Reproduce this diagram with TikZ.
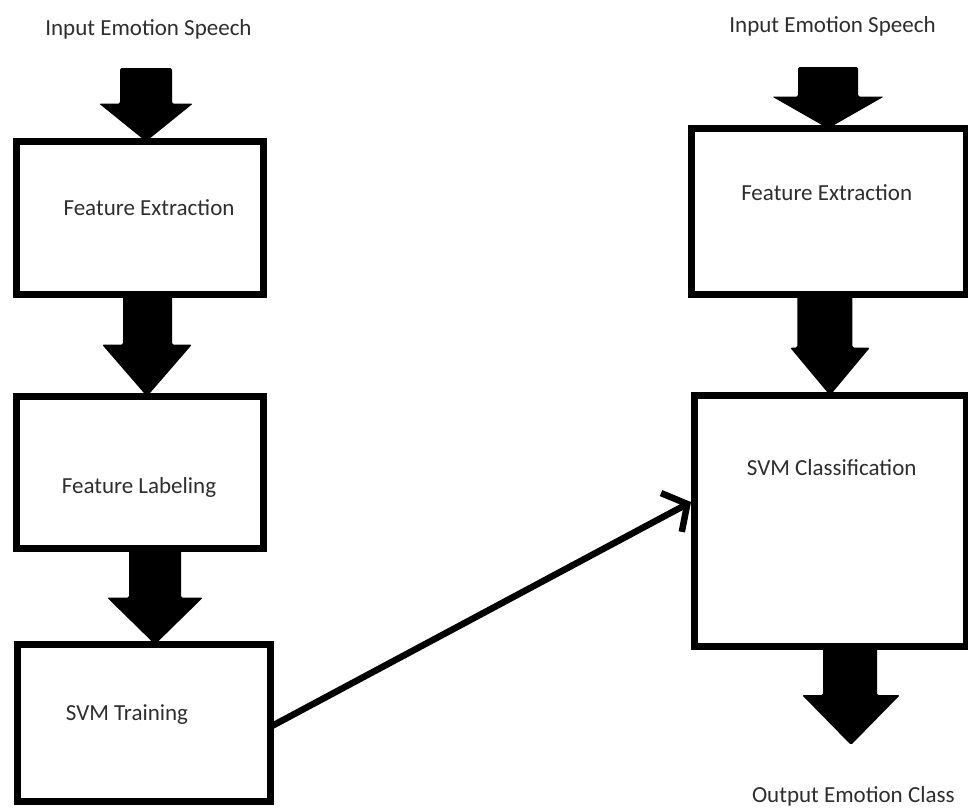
\documentclass[tikz,border=0pt]{standalone}
\usepackage{fontspec}
\setmainfont{Carlito}
\usetikzlibrary{arrows.meta,calc}
\tikzset{
  box/.style={draw=black, line width=7pt, rectangle, inner sep=0pt, outer sep=0pt, fill=white},
  lbl/.style={font=\fontsize{23}{27}\selectfont, text=black!82, anchor=base, inner sep=0pt},
  blockfill/.style={fill=black, rounded corners=1.5pt},
  link/.style={line width=6.5pt, line cap=round, -{Straight Barb[length=18pt,width=44pt]}}
}
% #1 start, #2 tip, #3 shaft half width, #4 head half width, #5 head length
\newcommand{\blockarr}[5]{%
  \fill[blockfill] let \p1=(#1), \p2=(#2) in
    (\x1-#3pt,\y1) -- (\x1+#3pt,\y1) -- (\x1+#3pt,\y2+#5pt) -- (\x2+#4pt,\y2+#5pt)
    -- (\x2,\y2) -- (\x2-#4pt,\y2+#5pt) -- (\x1-#3pt,\y2+#5pt) -- cycle;}
\begin{document}
\begin{tikzpicture}[x=1pt,y=-1pt]
\useasboundingbox[fill=white] (0,0) rectangle (968,807);

% boxes
\node[box, minimum width=247pt, minimum height=153pt] (fe1) at (140,218) {};
\node[box, minimum width=247pt, minimum height=152pt] (fl) at (140,472.5) {};
\node[box, minimum width=253pt, minimum height=156.5pt] (svmt) at (144,722.75) {};
\node[box, minimum width=274.5pt, minimum height=166pt] (fe2) at (828.75,211.5) {};
\node[box, minimum width=272pt, minimum height=251pt] (svmc) at (830,521) {};

% labels
\node[lbl] (in1t) at (148.5,35) {Input Emotion Speech};
\node[lbl] (fe1t) at (149,215) {Feature Extraction};
\node[lbl] (flt) at (139,493) {Feature Labeling};
\node[lbl] (svmtt) at (127,720) {SVM Training};
\node[lbl] (in2t) at (832.5,32) {Input Emotion Speech};
\node[lbl] (fe2t) at (826.7,200) {Feature Extraction};
\node[lbl] (svmct) at (831.7,475) {SVM Classification};
\node[lbl] (outt) at (853.3,802) {Output Emotion Class};

% free ends of the block arrows
\coordinate (in1) at (146,68);
\coordinate (in2) at (828,67);
\coordinate (outtip) at (851,745);

% anchor points on the boxes
\coordinate (a2s) at ($(fe1.south)+(7.5,0)$);
\coordinate (a2e) at ($(fl.north)+(7,0)$);
\coordinate (a1e) at ($(fe1.north)+(6,0)$);
\coordinate (a3s) at ($(fl.south)+(15,0)$);
\coordinate (a3e) at ($(svmt.north)+(11,0)$);
\coordinate (a4e) at ($(fe2.north)+(-0.75,0)$);
\coordinate (a5s) at ($(fe2.south)+(-4,0)$);
\coordinate (a5e) at ($(svmc.north)+(0,0)$);
\coordinate (a6s) at ($(svmc.south)+(20,0)$);

% block arrows
\blockarr{in1}{a1e}{26}{47}{38}
\blockarr{a2s}{a2e}{24.5}{45}{52}
\blockarr{a3s}{a3e}{26}{48}{47}
\blockarr{in2}{a4e}{30}{56}{32}
\blockarr{a5s}{a5e}{27.5}{40}{48}
\blockarr{a6s}{outtip}{27}{49}{50}

% training -> classification
\draw[link] ($(svmt.east)+(0,4)$) -- ($(svmc.west)+(-3,-19)$);
\end{tikzpicture}
\end{document}
